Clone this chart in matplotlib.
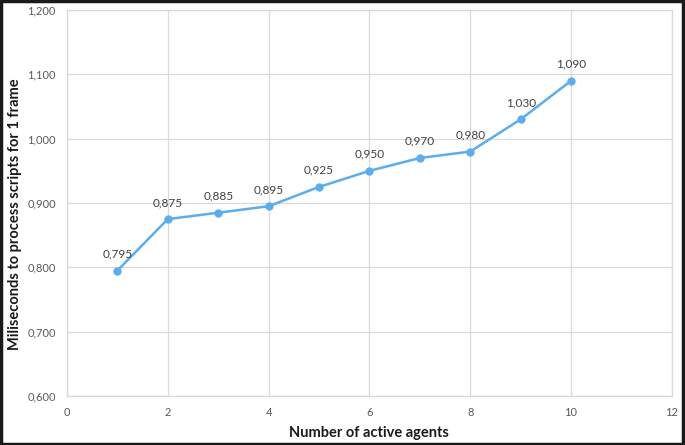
import matplotlib
matplotlib.use("Agg")
import matplotlib.pyplot as plt
from matplotlib.patches import Rectangle
from matplotlib.ticker import FuncFormatter, MultipleLocator

agents = [1, 2, 3, 4, 5, 6, 7, 8, 9, 10]
ms = [0.795, 0.875, 0.885, 0.895, 0.925, 0.950, 0.970, 0.980, 1.030, 1.090]
labels = ["0,795", "0,875", "0,885", "0,895", "0,925", "0,950", "0,970", "0,980", "1,030", "1,090"]

plt.rcParams['font.family'] = ['Lato', 'DejaVu Sans']

fig = plt.figure(figsize=(6.85, 4.45), dpi=100)
ax = fig.add_axes([0.0978, 0.110, 0.883, 0.8675])

line_color = "#5DADEC"
ax.plot(agents, ms, color=line_color, linewidth=1.8, marker="o", markersize=5, zorder=3)
for x, y, t in zip(agents, ms, labels):
    ax.annotate(t, (x, y), xytext=(0, 8), textcoords="offset points", ha="center", va="bottom",
                fontsize=8.5, color="#404040")

ax.set_xlim(0, 12)
ax.set_ylim(0.6, 1.2)
ax.xaxis.set_major_locator(MultipleLocator(2))
ax.yaxis.set_major_locator(MultipleLocator(0.1))
ax.yaxis.set_major_formatter(FuncFormatter(lambda v, p: f"{v:.3f}".replace(".", ",")))
ax.grid(True, color="#D9D9D9", linewidth=0.9)
ax.set_axisbelow(True)
for s in ax.spines.values():
    s.set_color("#D9D9D9")
    s.set_linewidth(0.9)
ax.tick_params(length=0, labelsize=8, labelcolor="#595959", pad=8)
ax.set_xlabel("Number of active agents", fontsize=10.5, fontweight="bold", color="#1a1a1a", labelpad=6)
ax.set_ylabel("Miliseconds to process scripts for 1 frame", fontsize=10.5, fontweight="bold",
              color="#1a1a1a", labelpad=5)
ax.yaxis.set_label_coords(-0.074, 0.47)

fig.patches.append(Rectangle((0.002, 0.003), 0.995, 0.994, transform=fig.transFigure,
                             fill=False, edgecolor="#1a1a1a", linewidth=2.5))

fig.savefig("out.png", dpi=100)
